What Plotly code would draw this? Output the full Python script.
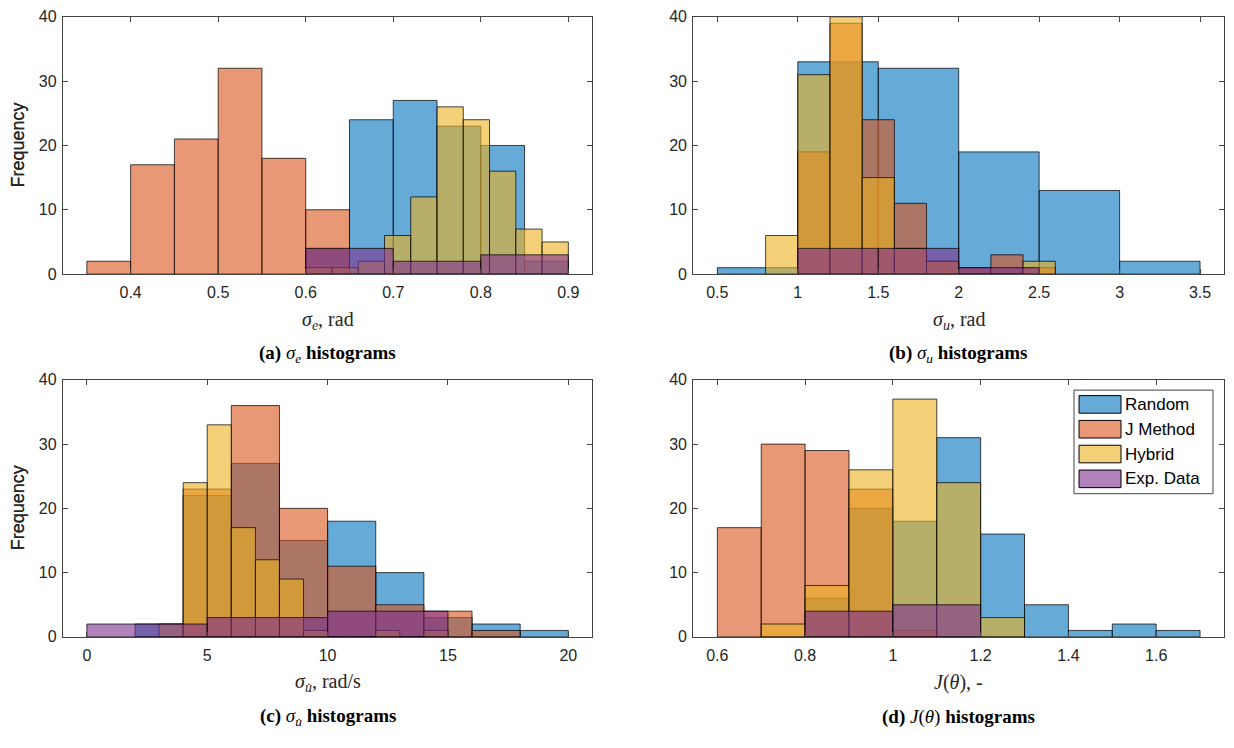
import plotly.graph_objects as go

W, H = 1234, 748

names = ["Random", "J Method", "Hybrid", "Exp. Data"]
colors = ["#0072BD", "#D95319", "#EDB120", "#7E2F8E"]
face_alpha = 0.6

# ---------------- data (bin edges + counts) ----------------
# (a) sigma_e
a_random_edges = [0.60, 0.65, 0.70, 0.75, 0.80, 0.85, 0.90]
a_random_counts = [4, 24, 27, 23, 20, 2]
a_jmethod_edges = [0.35, 0.40, 0.45, 0.50, 0.55, 0.60, 0.65]
a_jmethod_counts = [2, 17, 21, 32, 18, 10]
a_hybrid_edges = [0.60, 0.63, 0.66, 0.69, 0.72, 0.75, 0.78, 0.81, 0.84, 0.87, 0.90]
a_hybrid_counts = [1, 1, 2, 6, 12, 26, 24, 16, 7, 5]
a_exp_edges = [0.6, 0.7, 0.8, 0.9]
a_exp_counts = [4, 2, 3]

# (b) sigma_u
b_random_edges = [0.5, 1.0, 1.5, 2.0, 2.5, 3.0, 3.5]
b_random_counts = [1, 33, 32, 19, 13, 2]
b_jmethod_edges = [1.0, 1.2, 1.4, 1.6, 1.8, 2.0, 2.2, 2.4, 2.6]
b_jmethod_counts = [19, 39, 24, 11, 2, 1, 3, 1]
b_hybrid_edges = [0.8, 1.0, 1.2, 1.4, 1.6, 1.8, 2.0, 2.2, 2.4, 2.6]
b_hybrid_counts = [6, 31, 40, 15, 4, 2, 0, 0, 2]
b_exp_edges = [1.0, 1.5, 2.0, 2.5]
b_exp_counts = [4, 4, 1]

# (c) sigma_udot
c_random_edges = [2, 4, 6, 8, 10, 12, 14, 16, 18, 20]
c_random_counts = [2, 22, 27, 15, 18, 10, 3, 2, 1]
c_jmethod_edges = [4, 6, 8, 10, 12, 14, 16, 18]
c_jmethod_counts = [23, 36, 20, 11, 5, 4, 1]
c_hybrid_edges = [3, 4, 5, 6, 7, 8, 9, 10, 11, 12, 13, 14, 15]
c_hybrid_counts = [2, 24, 33, 17, 12, 9, 1, 0, 0, 1, 0, 1]
c_exp_edges = [0, 5, 10, 15]
c_exp_counts = [2, 3, 4]

# (d) J(theta)
d_random_edges = [0.8, 0.9, 1.0, 1.1, 1.2, 1.3, 1.4, 1.5, 1.6, 1.7]
d_random_counts = [6, 20, 18, 31, 16, 5, 1, 2, 1]
d_jmethod_edges = [0.6, 0.7, 0.8, 0.9, 1.0, 1.1]
d_jmethod_counts = [17, 30, 29, 23, 1]
d_hybrid_edges = [0.7, 0.8, 0.9, 1.0, 1.1, 1.2, 1.3]
d_hybrid_counts = [2, 8, 26, 37, 24, 3]
d_exp_edges = [0.8, 1.0, 1.2]
d_exp_counts = [4, 5]

x_ticks_a = [0.4, 0.5, 0.6, 0.7, 0.8, 0.9]
x_ticks_b = [0.5, 1, 1.5, 2, 2.5, 3, 3.5]
x_ticks_c = [0, 5, 10, 15, 20]
x_ticks_d = [0.6, 0.8, 1.0, 1.2, 1.4, 1.6]
y_ticks = [0, 10, 20, 30, 40]

x_titles = ["<i>σ<sub>e</sub></i>, rad", "<i>σ<sub>u</sub></i>, rad",
            "<i>σ<sub>u̇</sub></i>, rad/s", "<i>J</i>(<i>θ</i>), -"]
captions = ["<b>(a)</b> <i>σ<sub>e</sub></i> <b>histograms</b>",
            "<b>(b)</b> <i>σ<sub>u</sub></i> <b>histograms</b>",
            "<b>(c)</b> <i>σ<sub>u̇</sub></i> <b>histograms</b>",
            "<b>(d)</b> <i>J</i>(<i>θ</i>) <b>histograms</b>"]

panels = [
    dict(series=[(a_random_edges, a_random_counts), (a_jmethod_edges, a_jmethod_counts),
                 (a_hybrid_edges, a_hybrid_counts), (a_exp_edges, a_exp_counts)], ticks=x_ticks_a),
    dict(series=[(b_random_edges, b_random_counts), (b_jmethod_edges, b_jmethod_counts),
                 (b_hybrid_edges, b_hybrid_counts), (b_exp_edges, b_exp_counts)], ticks=x_ticks_b),
    dict(series=[(c_random_edges, c_random_counts), (c_jmethod_edges, c_jmethod_counts),
                 (c_hybrid_edges, c_hybrid_counts), (c_exp_edges, c_exp_counts)], ticks=x_ticks_c),
    dict(series=[(d_random_edges, d_random_counts), (d_jmethod_edges, d_jmethod_counts),
                 (d_hybrid_edges, d_hybrid_counts), (d_exp_edges, d_exp_counts)], ticks=x_ticks_d),
]

# ---------------- layout geometry (pixels) ----------------
col_px = [(62.8, 592.4), (693.2, 1224.2)]
row_px = [(9.0, 272.3), (380.5, 643.5)]


def px(x):
    return x / W


def py(y):
    return 1 - y / H


def rgba(hexc, a):
    h = hexc.lstrip("#")
    r, g, b = int(h[0:2], 16), int(h[2:4], 16), int(h[4:6], 16)
    return f"rgba({r},{g},{b},{a})"


fig = go.Figure()
SANS = "Liberation Sans, Arial, sans-serif"
TICK_FONT = dict(family=SANS, size=16, color="#262626")
SERIF = "Liberation Serif, Times New Roman, serif"

annotations = []
for i, p in enumerate(panels):
    r, c = divmod(i, 2)
    ax = "" if i == 0 else str(i + 1)
    xa, ya = "x" + ax, "y" + ax
    for k, (edges, counts) in enumerate(p["series"]):
        centers = [(edges[j] + edges[j + 1]) / 2 for j in range(len(counts))]
        widths = [edges[j + 1] - edges[j] for j in range(len(counts))]
        fig.add_trace(go.Bar(
            x=centers, y=counts, width=widths, name=names[k],
            marker=dict(color=rgba(colors[k], face_alpha),
                        line=dict(color="rgba(0,0,0,0.9)", width=0.8)),
            xaxis=xa, yaxis=ya, showlegend=False))
    all_edges = [e for s in p["series"] for e in s[0]]
    lo, hi = min(all_edges), max(all_edges)
    pad = 0.05 * (hi - lo)
    x0, x1 = col_px[c]
    y0, y1 = row_px[r]
    common = dict(showline=True, linecolor="#444444", linewidth=1, mirror="ticks",
                  ticks="inside", ticklen=5, tickcolor="#444444", tickwidth=1,
                  showgrid=False, zeroline=False, tickfont=TICK_FONT)
    fig.layout["xaxis" + ax] = dict(domain=[px(x0), px(x1)], range=[lo - pad, hi + pad],
                                     anchor=ya, tickvals=p["ticks"], ticklabelstandoff=4,
                                     ticktext=[f"{t:g}" for t in p["ticks"]], **common)
    fig.layout["yaxis" + ax] = dict(domain=[py(y1), py(y0)], range=[0, 40], anchor=xa,
                                     tickvals=y_ticks, ticklabelstandoff=2, **common)
    xc = (x0 + x1) / 2
    annotations.append(dict(x=px(18), y=py((y0 + y1) / 2), xref="paper", yref="paper",
                            text="Frequency", textangle=-90, showarrow=False,
                            font=dict(family=SANS, size=18, color="#262626"),
                            xanchor="center", yanchor="middle"))
    annotations.append(dict(x=px(xc), y=py(y1 + 47), xref="paper", yref="paper",
                            text=x_titles[i], showarrow=False,
                            font=dict(family=SERIF, size=20, color="#262626"),
                            xanchor="center", yanchor="middle"))
    annotations.append(dict(x=px(xc), y=py(y1 + 82), xref="paper", yref="paper",
                            text=captions[i], showarrow=False,
                            font=dict(family=SERIF, size=19, color="black"),
                            xanchor="center", yanchor="middle"))

# ---------------- manual legend in panel (d) ----------------
shapes = []
lg_x0, lg_x1, lg_y0, lg_y1 = 1074, 1213, 391, 497
shapes.append(dict(type="rect", xref="paper", yref="paper",
                   x0=px(lg_x0), x1=px(lg_x1), y0=py(lg_y1), y1=py(lg_y0),
                   fillcolor="white", line=dict(color="#444444", width=1)))
row_y = [405.6, 431.0, 456.4, 481.8]
for k in range(4):
    yc = row_y[k]
    shapes.append(dict(type="rect", xref="paper", yref="paper",
                       x0=px(1079), x1=px(1121), y0=py(yc + 9), y1=py(yc - 9),
                       fillcolor=rgba(colors[k], face_alpha),
                       line=dict(color="black", width=1)))
    annotations.append(dict(x=px(1123), y=py(yc), xref="paper", yref="paper",
                            text=names[k], showarrow=False, xanchor="left", yanchor="middle",
                            font=dict(family=SANS, size=17, color="black")))

fig.update_layout(width=W, height=H, margin=dict(l=0, r=0, t=0, b=0),
                  barmode="overlay", plot_bgcolor="white", paper_bgcolor="white",
                  annotations=annotations, shapes=shapes, showlegend=False)

fig.write_html("out.html")
